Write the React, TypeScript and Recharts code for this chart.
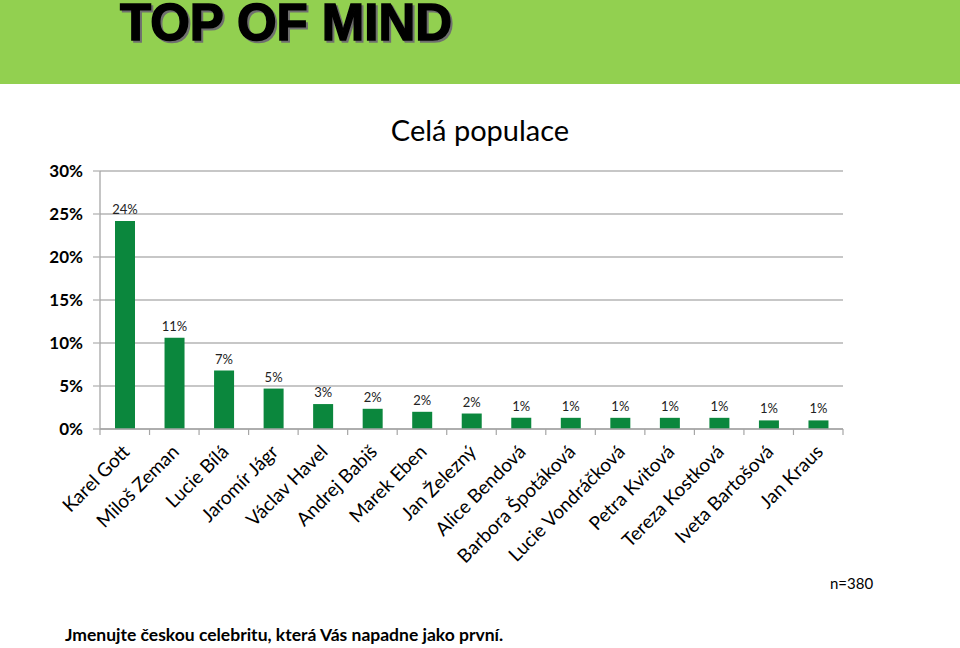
import React from "react";
import { BarChart, Bar, XAxis, YAxis, CartesianGrid, LabelList } from "recharts";

const names = [
  "Karel Gott",
  "Miloš Zeman",
  "Lucie Bílá",
  "Jaromír Jágr",
  "Václav Havel",
  "Andrej Babiš",
  "Marek Eben",
  "Jan Železný",
  "Alice Bendová",
  "Barbora Špotáková",
  "Lucie Vondráčková",
  "Petra Kvitová",
  "Tereza Kostková",
  "Iveta Bartošová",
  "Jan Kraus",
];
const shares = [24.2, 10.6, 6.8, 4.7, 2.9, 2.35, 2.0, 1.8, 1.3, 1.3, 1.3, 1.3, 1.3, 1.0, 1.0];
const yTicks = [0, 5, 10, 15, 20, 25, 30];

const data = names.map((name, i) => ({ name, value: shares[i] }));

const FONT = "Lato, 'Open Sans', sans-serif";
const PLOT_LEFT = 100;
const PLOT_RIGHT = 843;
const BAND = (PLOT_RIGHT - PLOT_LEFT) / names.length;

const XTick = (props: any) => {
  const { x, y, payload, index } = props;
  const last = index === names.length - 1;
  return (
    <g>
      <line x1={x - BAND / 2} x2={x - BAND / 2} y1={y} y2={y + 6} stroke="#a6a6a6" strokeWidth={1.2} />
      {last && (
        <line x1={x + BAND / 2} x2={x + BAND / 2} y1={y} y2={y + 6} stroke="#a6a6a6" strokeWidth={1.2} />
      )}
      <text
        x={0}
        y={0}
        transform={`translate(${x + 6},${y + 24}) rotate(-45)`}
        textAnchor="end"
        fontFamily={FONT}
        fontSize={19}
        fill="#000"
      >
        {payload.value}
      </text>
    </g>
  );
};

const YTick = (props: any) => {
  const { x, y, payload } = props;
  return (
    <text x={x} y={y} dy="0.36em" textAnchor="end" fontFamily={FONT} fontWeight={700} fontSize={17} fill="#000">
      {payload.value}%
    </text>
  );
};

export default function App() {
  return (
    <div
      style={{
        position: "absolute",
        left: 0,
        top: 0,
        width: 960,
        height: 648,
        background: "#fff",
        overflow: "hidden",
        fontFamily: FONT,
      }}
    >
      <div style={{ position: "absolute", left: 0, top: 0, width: 960, height: 84, background: "#92D050" }} />
      <svg style={{ position: "absolute", left: 0, top: 0 }} width={960} height={84}>
        <text
          x={120}
          y={40}
          textLength={332}
          lengthAdjust="spacingAndGlyphs"
          fontFamily="'Liberation Sans Narrow', 'Arial Narrow', 'Liberation Sans', sans-serif"
          fontWeight={700}
          fontSize={52}
          fill="#000"
          stroke="#000"
          strokeWidth={1.5}
          style={{ filter: "drop-shadow(2px 2px 0px #6f6f6f)" }}
        >
          TOP OF MIND
        </text>
      </svg>
      <div
        style={{
          position: "absolute",
          left: 0,
          width: 960,
          top: 111,
          textAlign: "center",
          fontSize: 29,
          color: "#000",
          lineHeight: "38px",
        }}
      >
        Celá populace
      </div>
      <div style={{ position: "absolute", left: 0, top: 0 }}>
        <BarChart
          width={960}
          height={648}
          data={data}
          margin={{ top: 171, right: 960 - PLOT_RIGHT, bottom: 69, left: 0 }}
          barCategoryGap={0}
        >
          <CartesianGrid vertical={false} stroke="#b4b4b4" strokeWidth={1.3} />
          <YAxis
            width={PLOT_LEFT}
            domain={[0, 30]}
            ticks={yTicks}
            interval={0}
            tickSize={7}
            tickMargin={10}
            tickLine={{ stroke: "#b4b4b4", strokeWidth: 1.3 }}
            axisLine={{ stroke: "#a6a6a6", strokeWidth: 1.3 }}
            tick={<YTick />}
          />
          <XAxis
            dataKey="name"
            height={150}
            interval={0}
            tickSize={0}
            tickMargin={0}
            tickLine={false}
            axisLine={{ stroke: "#a6a6a6", strokeWidth: 1.3 }}
            tick={<XTick />}
          />
          <Bar dataKey="value" fill="#0B873D" barSize={20} isAnimationActive={false}>
            <LabelList
              dataKey="value"
              position="top"
              offset={7}
              formatter={(v: any) => `${Math.round(Number(v))}%`}
              style={{ fontFamily: FONT, fontSize: 13, fill: "#222" }}
            />
          </Bar>
        </BarChart>
      </div>
      <div style={{ position: "absolute", left: 830, top: 574, fontSize: 15, color: "#000" }}>n=380</div>
      <div style={{ position: "absolute", left: 65, top: 624, fontSize: 17.5, fontWeight: 700, color: "#000" }}>
        Jmenujte českou celebritu, která Vás napadne jako první.
      </div>
    </div>
  );
}
